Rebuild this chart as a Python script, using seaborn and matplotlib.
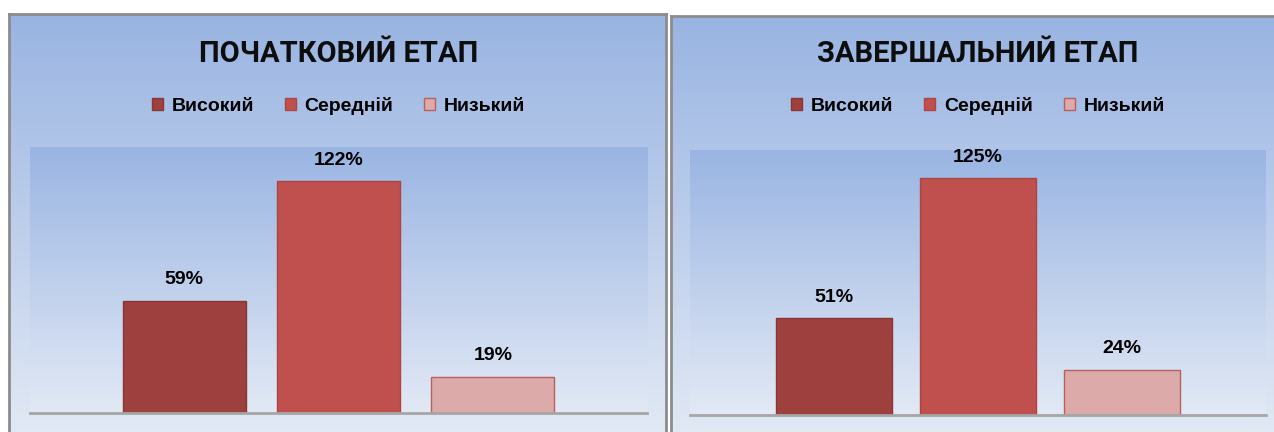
import numpy as np
import pandas as pd
import matplotlib
matplotlib.use("Agg")
import matplotlib.pyplot as plt
import seaborn as sns

# data
levels = ["Високий", "Середній", "Низький"]
titles = ["ПОЧАТКОВИЙ ЕТАП", "ЗАВЕРШАЛЬНИЙ ЕТАП"]
initial_values = [59, 122, 19]
final_values = [51, 125, 24]

bar_colors = ["#9e403e", "#c0504d", "#dcaaa9"]
edge_colors = ["#8a3634", "#a94643", "#b8605d"]

sns.set_theme(style="white")
plt.rcParams["font.family"] = ["Liberation Sans", "DejaVu Sans"]
plt.rcParams["text.color"] = "black"

W, H = 1274, 432
fig = plt.figure(figsize=(W / 100, H / 100), dpi=100)


def px_rect(x0, y0, x1, y1):
    # pixel box (top-left origin) -> figure fraction
    return [x0 / W, 1 - y1 / H, (x1 - x0) / W, (y1 - y0) / H]


def gradient(ax, top="#99b4e2", bottom="#e3eaf5"):
    c0 = np.array(matplotlib.colors.to_rgb(top))
    c1 = np.array(matplotlib.colors.to_rgb(bottom))
    t = np.linspace(0, 1, 256)[:, None]
    img = (c0 * (1 - t) + c1 * t)[:, None, :]
    ax.imshow(img, extent=[0, 1, 0, 1], transform=ax.transAxes,
              aspect="auto", zorder=0, interpolation="bilinear")


panels = [
    dict(frame=(9, 14, 666, 445), plot=(30, 147, 647, 413), values=initial_values),
    dict(frame=(671, 16, 1290, 445), plot=(690, 150, 1266, 415), values=final_values),
]

for title, p in zip(titles, panels):
    bg = fig.add_axes(px_rect(*p["frame"]))
    gradient(bg)
    bg.set_xlim(0, 1)
    bg.set_ylim(0, 1)
    bg.set_xticks([])
    bg.set_yticks([])
    for s in bg.spines.values():
        s.set_color("#8c8c8c")
        s.set_linewidth(2)

    cx = (p["plot"][0] + p["plot"][2]) / 2
    fig.text(cx / W, 1 - 54 / H, title, ha="center", va="center",
             fontsize=21, fontweight="bold",
             family=["Roboto", "DejaVu Sans"], color="#0d0d0d")

    ax = fig.add_axes(px_rect(*p["plot"]))
    gradient(ax, top="#9ab5e3", bottom="#e2e9f5")
    df = pd.DataFrame({"stage": [title] * 3, "level": levels, "value": p["values"]})
    sns.barplot(data=df, x="stage", y="value", hue="level", hue_order=levels,
                palette=bar_colors, width=0.75, gap=0.2, saturation=1,
                legend=False, ax=ax, zorder=2)
    for b, ec in zip(ax.patches, edge_colors):
        b.set_edgecolor(ec)
        b.set_linewidth(1)
    for cont in ax.containers:
        ax.bar_label(cont, fmt="%d%%", padding=9, fontsize=14,
                     fontweight="bold", color="black")
    ax.set_ylim(0, 140)
    ax.set_xlim(-0.5, 0.5)
    ax.set_xticks([])
    ax.set_yticks([])
    ax.set_xlabel("")
    ax.set_ylabel("")
    for side in ["top", "left", "right"]:
        ax.spines[side].set_visible(False)
    ax.spines["bottom"].set_color("#a6a6a6")
    ax.spines["bottom"].set_linewidth(2)

    # legend
    handles = [matplotlib.patches.Patch(facecolor=c, edgecolor=e, linewidth=1)
               for c, e in zip(bar_colors, edge_colors)]
    fig.legend(handles, levels, loc="center", bbox_to_anchor=(cx / W, 1 - 106 / H),
               ncol=3, frameon=False, prop=dict(weight="bold", size=14),
               handlelength=0.55, handleheight=0.55, handletextpad=0.45,
               columnspacing=1.6, labelcolor="black")

fig.savefig("out.png", dpi=100)
